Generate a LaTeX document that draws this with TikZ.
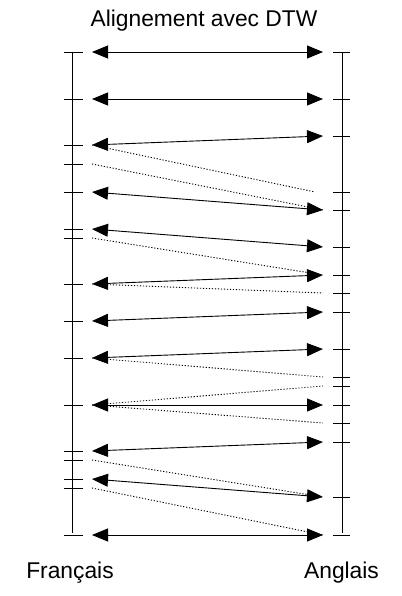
\documentclass[tikz,border=0pt]{standalone}
\usepackage{fontspec}
\setmainfont{Liberation Sans}
\usetikzlibrary{arrows.meta}
\begin{document}
\begin{tikzpicture}[x=1pt,y=-1pt,line width=0.9pt,
  tip/.tip={Triangle[length=16pt,width=13pt]},
  pair/.style={tip-tip},
  link/.style={dash pattern=on 1.2pt off 1.8pt,line width=0.9pt},
  lbl/.style={font=\fontsize{22.8}{26}\selectfont,anchor=base,inner sep=0pt}]
\useasboundingbox (0,0) rectangle (401,596);
% axes
\coordinate (ltop) at (72,52); \coordinate (lbot) at (72,533);
\coordinate (rtop) at (342,52); \coordinate (rbot) at (342,533);
\draw (ltop) -- (lbot);
\draw (rtop) -- (rbot);
% left ticks and points
\foreach \y in {52,99,145,164,192,229,238,284,321,358,405,451,460,479,488,535}{
  \draw (64,\y) -- (83,\y);
  \coordinate (l\y) at (92,\y);
}
% right ticks and points
\foreach \y in {52,99,136,192,210,247,275,293,312,349,377,386,405,423,442,497,535}{
  \draw (333,\y) -- (350,\y);
  \coordinate (r\y) at (323,\y);
}
\coordinate (r192s) at (315,192);
% alignments
\draw[pair] (l52) -- (r52);
\draw[pair] (l99) -- (r99);
\draw[pair] (l145) -- (r136);
\draw[link] (l145) -- (r192s);
\draw[link] (l164) -- (r210);
\draw[pair] (l192) -- (r210);
\draw[pair] (l229) -- (r247);
\draw[link] (l238) -- (r275);
\draw[pair] (l284) -- (r275);
\draw[link] (l284) -- (r293);
\draw[pair] (l321) -- (r312);
\draw[pair] (l358) -- (r349);
\draw[link] (l358) -- (r377);
\draw[link] (l405) -- (r386);
\draw[pair] (l405) -- (r405);
\draw[link] (l405) -- (r423);
\draw[pair] (l451) -- (r442);
\draw[link] (l460) -- (r497);
\draw[pair] (l479) -- (r497);
\draw[link] (l488) -- (r535);
\draw[pair] (l535) -- (r535);
% labels
\node[lbl] (title) at (204,27) {Alignement avec DTW};
\node[lbl] (fr) at (70,578) {Français};
\node[lbl] (en) at (341.5,578) {Anglais};
\end{tikzpicture}
\end{document}
